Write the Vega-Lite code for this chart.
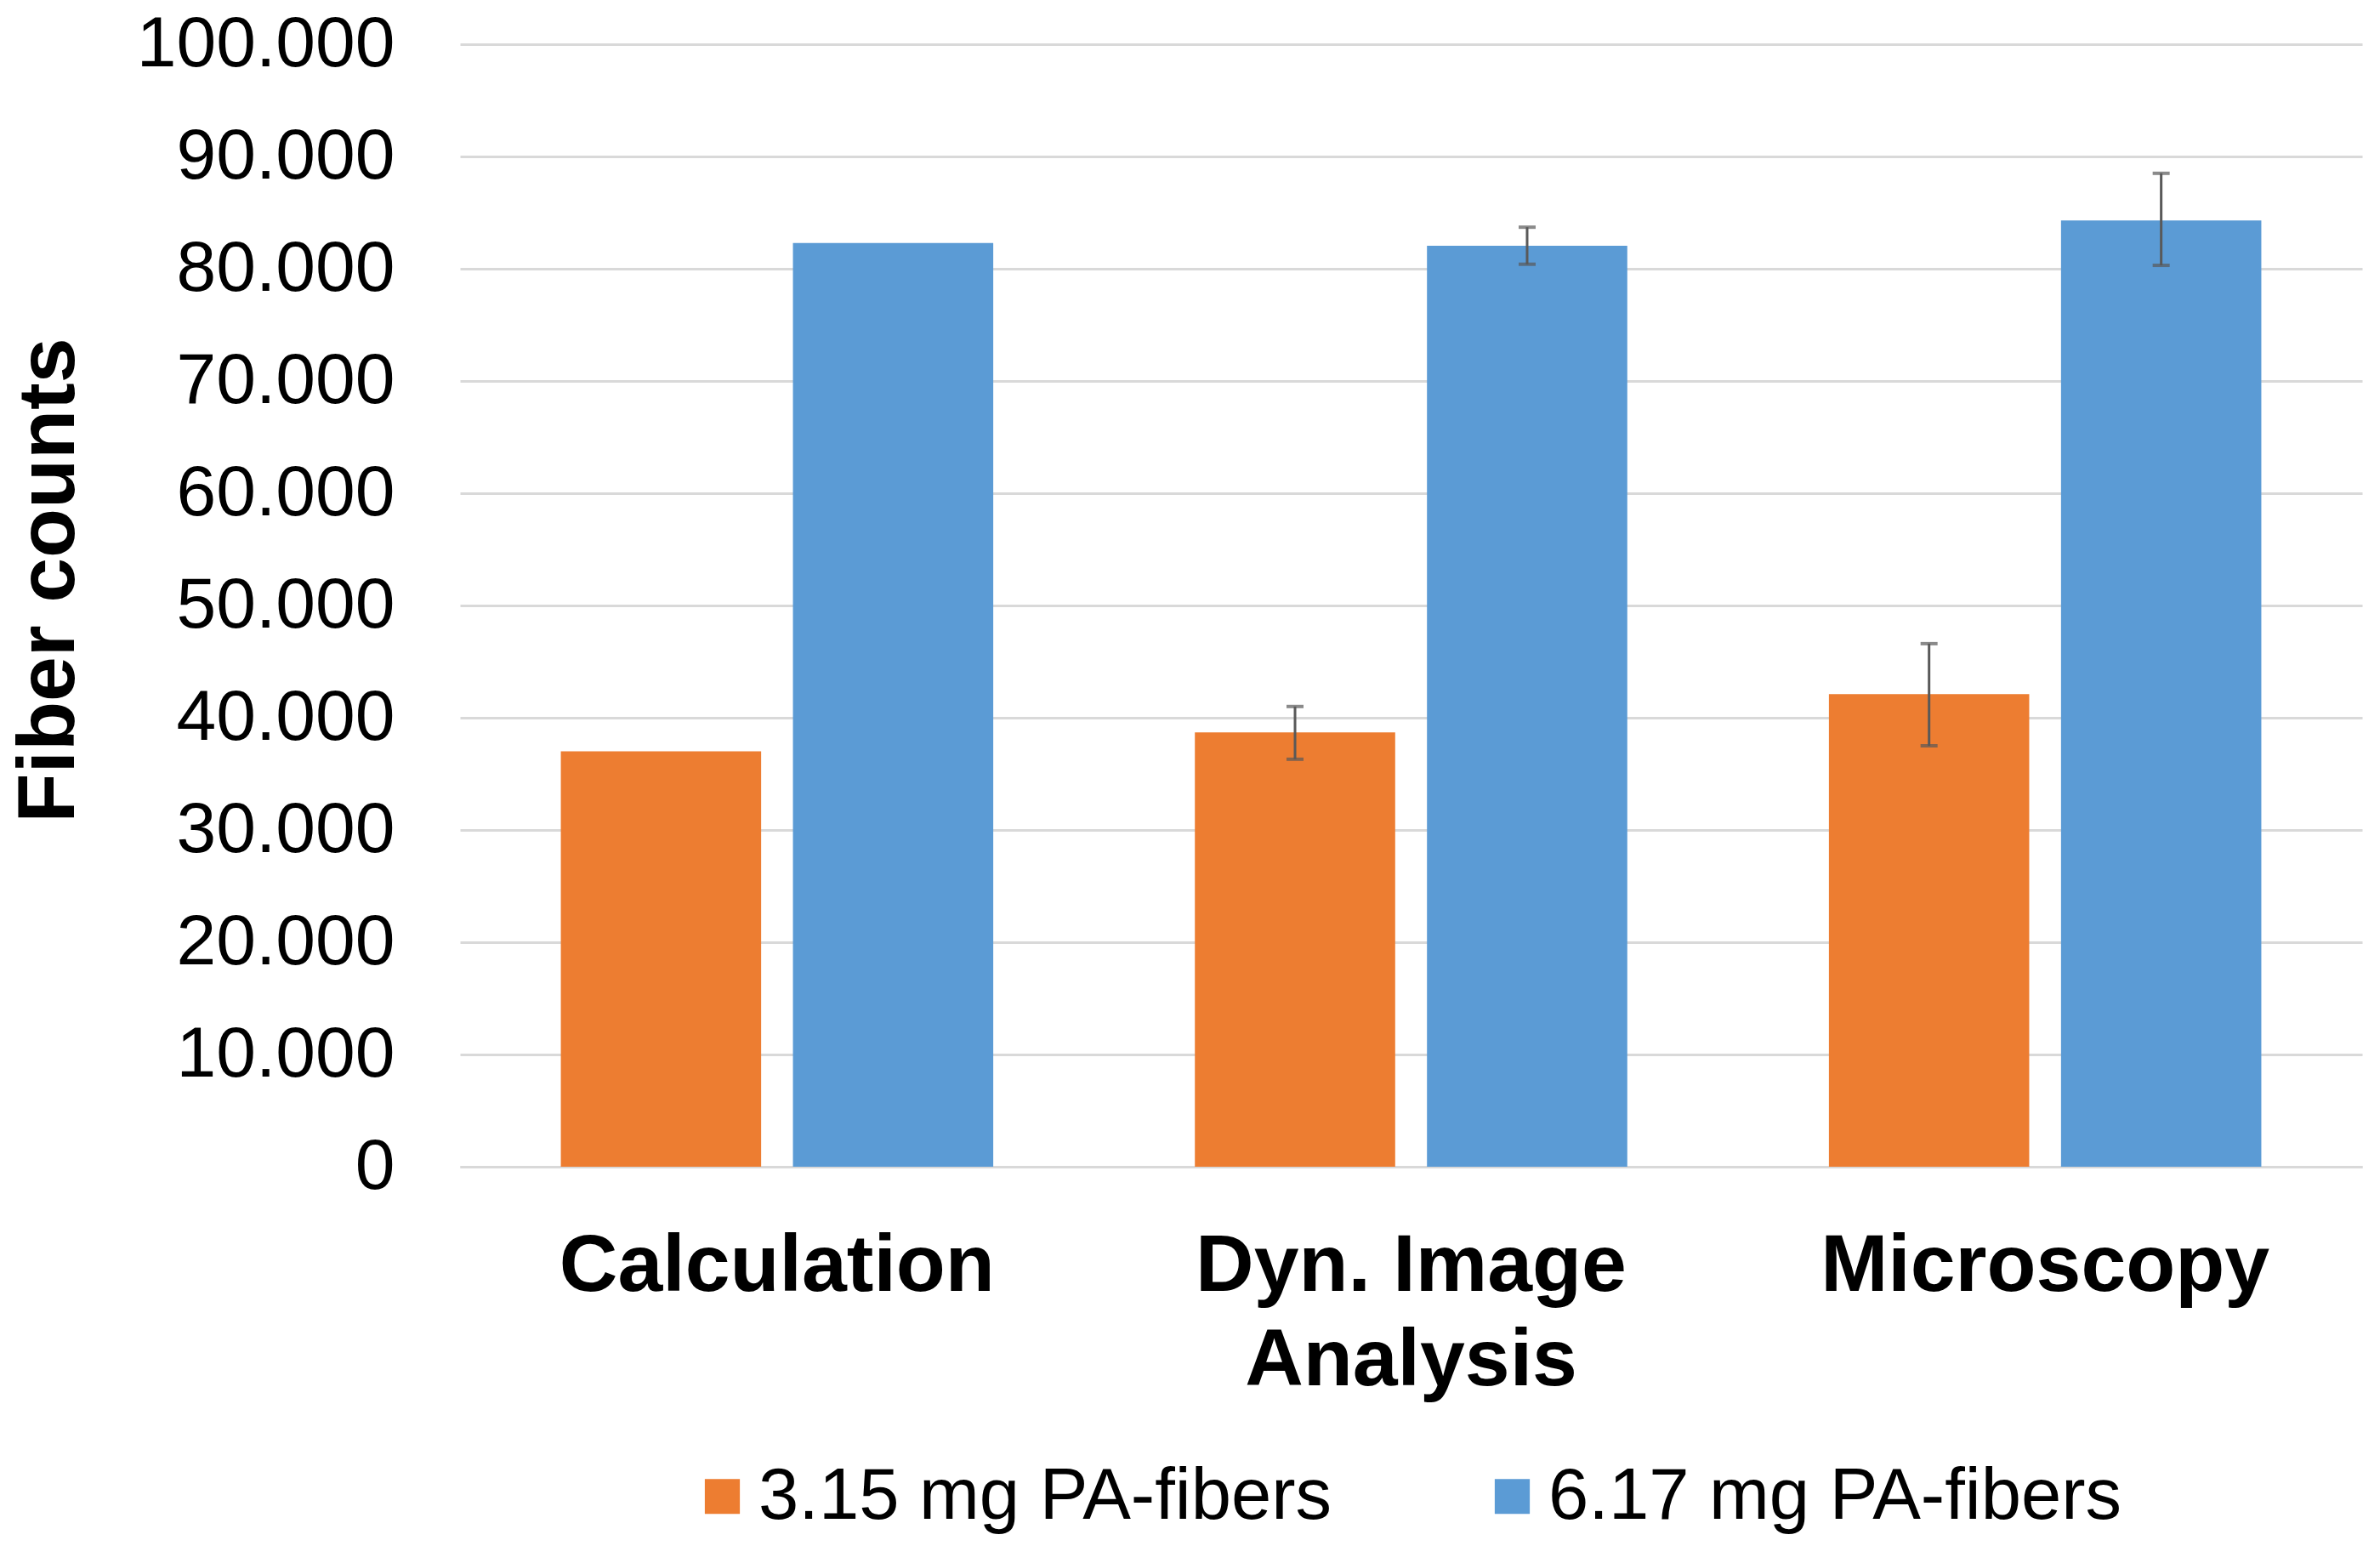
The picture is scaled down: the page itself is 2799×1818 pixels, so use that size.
{
  "$schema": "https://vega.github.io/schema/vega-lite/v6.json",
  "autosize": "none",
  "width": 2237,
  "height": 1320,
  "padding": {"left": 541, "top": 52, "right": 21, "bottom": 446},
  "background": "white",
  "config": {
    "view": {"stroke": null},
    "font": "Liberation Sans"
  },
  "data": {
    "values": [
      {"method": "Calculation", "sample": "3.15 mg PA-fibers", "count": 37000, "lo": null, "hi": null},
      {"method": "Calculation", "sample": "6.17 mg PA-fibers", "count": 82300, "lo": null, "hi": null},
      {"method": "Dyn. Image Analysis", "sample": "3.15 mg PA-fibers", "count": 38700, "lo": 36300, "hi": 41000},
      {"method": "Dyn. Image Analysis", "sample": "6.17 mg PA-fibers", "count": 82050, "lo": 80400, "hi": 83700},
      {"method": "Microscopy", "sample": "3.15 mg PA-fibers", "count": 42100, "lo": 37500, "hi": 46600},
      {"method": "Microscopy", "sample": "6.17 mg PA-fibers", "count": 84300, "lo": 80300, "hi": 88500}
    ]
  },
  "encoding": {
    "x": {
      "field": "method",
      "type": "nominal",
      "sort": null,
      "scale": {"paddingInner": 0.318, "paddingOuter": 0.159},
      "axis": {
        "title": null,
        "labelAngle": 0,
        "labelFont": "Liberation Sans",
        "labelFontSize": 95,
        "labelFontWeight": "bold",
        "labelColor": "black",
        "labelPadding": 70,
        "labelLineHeight": 111,
        "labelLimit": 2000,
        "labelOverlap": false,
        "labelExpr": "datum.label == 'Dyn. Image Analysis' ? ['Dyn. Image', 'Analysis'] : datum.label",
        "ticks": false,
        "tickSize": 0,
        "domainColor": "#d9d9d9",
        "domainWidth": 3,
        "grid": false
      }
    },
    "xOffset": {
      "field": "sample",
      "type": "nominal",
      "sort": null,
      "scale": {"paddingInner": 0.137, "paddingOuter": 0}
    }
  },
  "layer": [
    {
      "mark": {"type": "bar"},
      "encoding": {
        "y": {
          "field": "count",
          "type": "quantitative",
          "scale": {"domain": [0, 100000], "nice": false},
          "axis": {
            "title": "Fiber counts",
            "titleFont": "Liberation Sans",
            "titleFontSize": 95,
            "titleFontWeight": "bold",
            "titleColor": "black",
            "titleAngle": -90,
            "titleBaseline": "middle",
            "titleAlign": "center",
            "titleX": -484,
            "titleY": 630,
            "values": [0, 10000, 20000, 30000, 40000, 50000, 60000, 70000, 80000, 90000, 100000],
            "labelExpr": "replace(format(datum.value, ','), ',', '.')",
            "labelFont": "Liberation Sans",
            "labelFontSize": 84,
            "labelColor": "black",
            "labelPadding": 77,
            "labelLimit": 1000,
            "labelOverlap": false,
            "ticks": false,
            "tickSize": 0,
            "domain": false,
            "grid": true,
            "gridColor": "#d9d9d9",
            "gridWidth": 3
          }
        },
        "color": {
          "field": "sample",
          "type": "nominal",
          "sort": null,
          "scale": {
            "domain": ["3.15 mg PA-fibers", "6.17 mg PA-fibers"],
            "range": ["#ED7D31", "#5B9BD5"]
          },
          "legend": {
            "title": null,
            "orient": "none",
            "legendX": 266,
            "legendY": 1665,
            "padding": 0,
            "direction": "horizontal",
            "symbolType": "square",
            "symbolSize": 1700,
            "symbolStrokeWidth": 0,
            "labelFont": "Liberation Sans",
            "labelFontSize": 85,
            "labelColor": "black",
            "labelOffset": 0,
            "columnPadding": 170,
            "labelLimit": 1500
          }
        }
      }
    },
    {
      "transform": [{"filter": "datum.hi != null"}],
      "mark": {"type": "rule", "color": "#595959", "strokeWidth": 3},
      "encoding": {
        "y": {"field": "lo", "type": "quantitative"},
        "y2": {"field": "hi"}
      }
    },
    {
      "transform": [{"filter": "datum.hi != null"}],
      "mark": {"type": "tick", "color": "#595959", "thickness": 4, "size": 20, "orient": "horizontal"},
      "encoding": {
        "y": {"field": "hi", "type": "quantitative"}
      }
    },
    {
      "transform": [{"filter": "datum.hi != null"}],
      "mark": {"type": "tick", "color": "#595959", "thickness": 4, "size": 20, "orient": "horizontal"},
      "encoding": {
        "y": {"field": "lo", "type": "quantitative"}
      }
    }
  ]
}
